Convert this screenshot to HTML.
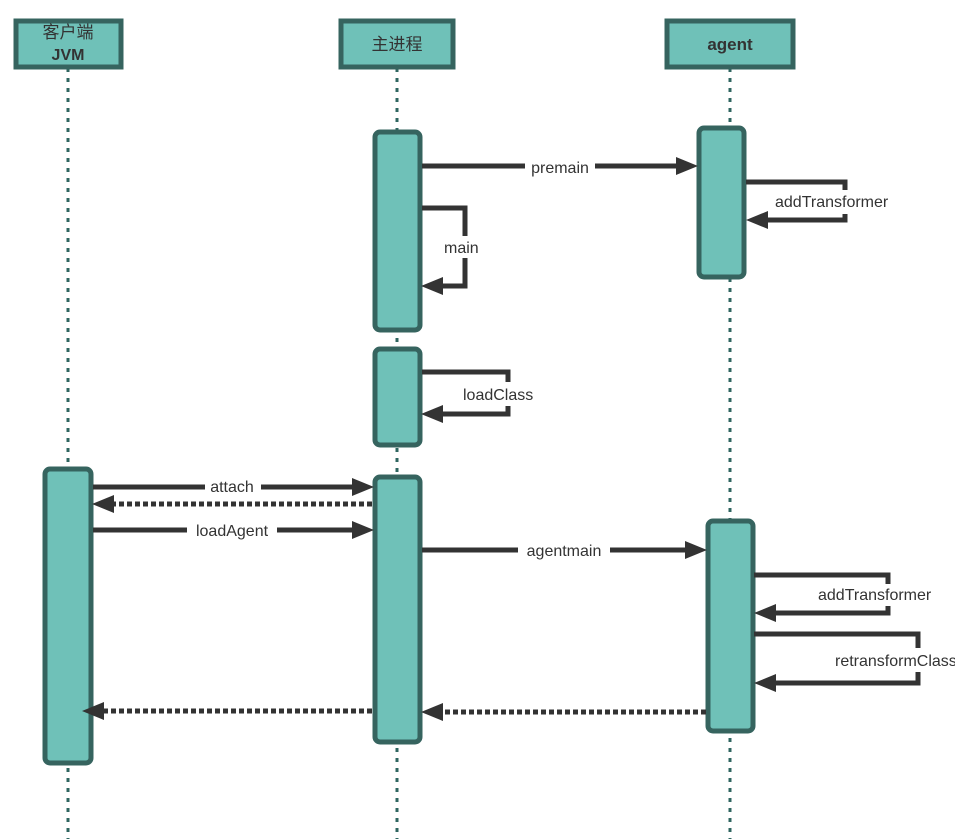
<!DOCTYPE html>
<html><head><meta charset="utf-8"><style>
html,body{margin:0;padding:0;background:#fff;width:955px;height:839px;overflow:hidden}
svg text{font-family:"Liberation Sans","Noto Sans CJK SC",sans-serif;fill:#333}
</style></head><body>
<svg width="955" height="839" viewBox="0 0 955 839" xmlns="http://www.w3.org/2000/svg">
<defs>
<marker id="ah" markerWidth="8" markerHeight="8" refX="7" refY="4" orient="auto" markerUnits="userSpaceOnUse"><path d="M0,0 L0,0 Z"/></marker>
<clipPath id="c1"><rect x="770" y="185" width="142" height="30"/></clipPath>
<clipPath id="c2"><rect x="460" y="378" width="90" height="30"/></clipPath>
</defs>
<g stroke="#2f6660" stroke-width="3" stroke-dasharray="4,6" fill="none">
<line x1="68" y1="68" x2="68" y2="839"/>
<line x1="397" y1="68" x2="397" y2="839"/>
<line x1="730" y1="68" x2="730" y2="839"/>
</g>
<g fill="#6fc1b8" stroke="#36645f" stroke-width="5">
<rect x="16" y="21" width="105" height="46"/>
<rect x="341" y="21" width="112" height="46"/>
<rect x="667" y="21" width="126" height="46"/>
</g>
<text x="68" y="38" font-size="17" text-anchor="middle">客户端</text>
<text x="68" y="60" font-size="16" font-weight="bold" text-anchor="middle">JVM</text>
<text x="397" y="50" font-size="17" text-anchor="middle">主进程</text>
<text x="730" y="50" font-size="17" font-weight="bold" text-anchor="middle">agent</text>
<g fill="#6fc1b8" stroke="#36645f" stroke-width="5">
<rect x="375" y="132" width="45" height="198" rx="5"/>
<rect x="699" y="128" width="45" height="149" rx="5"/>
<rect x="375" y="349" width="45" height="96" rx="5"/>
<rect x="45" y="469" width="46" height="294" rx="5"/>
<rect x="375" y="477" width="45" height="265" rx="5"/>
<rect x="708" y="521" width="45" height="210" rx="5"/>
</g>
<g stroke="#333" stroke-width="5" fill="none">
<line x1="422" y1="166" x2="680" y2="166"/>
<polyline points="746,182 845,182 845,220 765,220"/>
<polyline points="422,208 465,208 465,286 440,286"/>
<polyline points="422,372 508,372 508,414 440,414"/>
<line x1="93" y1="487" x2="356" y2="487"/>
<line x1="93" y1="530" x2="356" y2="530"/>
<line x1="422" y1="550" x2="690" y2="550"/>
<polyline points="754,575 888,575 888,613 773,613"/>
<polyline points="754,634 918,634 918,683 773,683"/>
</g>
<g stroke="#333" stroke-width="5" fill="none" stroke-dasharray="5,3">
<line x1="372" y1="504" x2="110" y2="504"/>
<line x1="372" y1="711" x2="100" y2="711"/>
<line x1="706" y1="712" x2="440" y2="712"/>
</g>
<g fill="#333">
<path d="M698,166 L676,157 L676,175 Z"/>
<path d="M746,220 L768,211 L768,229 Z"/>
<path d="M421,286 L443,277 L443,295 Z"/>
<path d="M421,414 L443,405 L443,423 Z"/>
<path d="M374,487 L352,478 L352,496 Z"/>
<path d="M92,504 L114,495 L114,513 Z"/>
<path d="M374,530 L352,521 L352,539 Z"/>
<path d="M707,550 L685,541 L685,559 Z"/>
<path d="M754,613 L776,604 L776,622 Z"/>
<path d="M754,683 L776,674 L776,692 Z"/>
<path d="M82,711 L104,702 L104,720 Z"/>
<path d="M421,712 L443,703 L443,721 Z"/>
</g>
<g fill="#fff">
<rect x="525" y="157" width="70" height="18"/>
<rect x="440" y="236" width="48" height="22"/>
<rect x="205" y="478" width="56" height="18"/>
<rect x="187" y="521" width="90" height="18"/>
<rect x="518" y="541" width="92" height="18"/>
<rect x="815" y="584" width="140" height="22"/>
<rect x="832" y="648" width="123" height="24"/>
</g>
<g font-size="16">
<text x="560" y="173" text-anchor="middle">premain</text>
<text x="444" y="253">main</text>
<text x="232" y="492" text-anchor="middle">attach</text>
<text x="232" y="536" text-anchor="middle">loadAgent</text>
<text x="564" y="556" text-anchor="middle">agentmain</text>
<rect x="770" y="190" width="142" height="24" fill="#fff" clip-path="url(#c1)"/>
<text x="775" y="207" clip-path="url(#c1)">addTransformer</text>
<rect x="460" y="382" width="90" height="24" fill="#fff"/>
<text x="463" y="400" clip-path="url(#c2)">loadClass</text>
<text x="818" y="600">addTransformer</text>
<text x="835" y="666">retransformClass</text>
</g>
</svg>
</body></html>
